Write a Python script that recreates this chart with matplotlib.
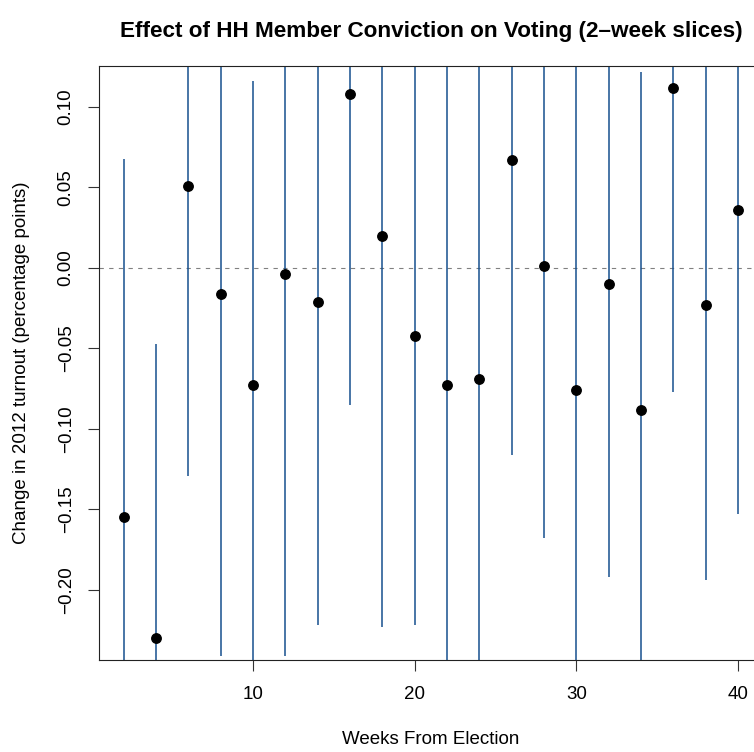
import matplotlib
matplotlib.use('Agg')
import matplotlib.pyplot as plt
from matplotlib.ticker import FixedLocator, FuncFormatter

plt.rcParams['font.family'] = ['Liberation Sans', 'DejaVu Sans']

# weeks before the election (2-week slices)
weeks = [2, 4, 6, 8, 10, 12, 14, 16, 18, 20, 22, 24, 26, 28, 30, 32, 34, 36, 38, 40]
# point estimates of the effect
estimate = [-0.155, -0.230, 0.051, -0.016, -0.073, -0.004, -0.021, 0.108, 0.020, -0.042,
            -0.073, -0.069, 0.067, 0.001, -0.076, -0.010, -0.088, 0.112, -0.023, 0.036]
# confidence interval bounds
ci_low = [-0.377, -0.413, -0.129, -0.241, -0.261, -0.241, -0.222, -0.085, -0.223, -0.222,
          -0.283, -0.274, -0.116, -0.168, -0.291, -0.192, -0.298, -0.077, -0.194, -0.153]
ci_high = [0.068, -0.047, 0.231, 0.209, 0.116, 0.234, 0.180, 0.301, 0.262, 0.137,
           0.137, 0.137, 0.250, 0.169, 0.139, 0.172, 0.122, 0.300, 0.148, 0.224]

x_ticks = [10, 20, 30, 40]
y_ticks = [-0.20, -0.15, -0.10, -0.05, 0.00, 0.05, 0.10]

fig = plt.figure(figsize=(7.54, 7.52), dpi=100)
# the plot region runs past the right edge of the picture, as in the original
ax = fig.add_axes([0.1313, 0.1223, 0.8802, 0.7903])

ax.vlines(weeks, ci_low, ci_high, color='#164f8e', linewidth=1.1, zorder=2)
ax.axhline(0, color='#808080', linewidth=0.8, linestyle=(0, (3.9, 4.8)), zorder=1)
ax.plot(weeks, estimate, 'o', color='black', markersize=6.8, zorder=3)

# R style limits: data range of the points plus 4% on each side
xpad = (max(weeks) - min(weeks)) * 0.04
ypad = (max(estimate) - min(estimate)) * 0.04
ax.set_xlim(min(weeks) - xpad, max(weeks) + xpad)
ax.set_ylim(min(estimate) - ypad, max(estimate) + ypad)

ax.xaxis.set_major_locator(FixedLocator(x_ticks))
ax.yaxis.set_major_locator(FixedLocator(y_ticks))
ax.yaxis.set_major_formatter(FuncFormatter(lambda v, p: f'{v:.2f}'.replace('-', '\u2212')))
ax.tick_params(axis='x', length=8, width=0.8, labelsize=13.5, pad=11, color='#333333')
ax.tick_params(axis='y', length=8, width=0.8, labelsize=13.5, pad=9.5, color='#333333')
for lab in ax.get_yticklabels():
    lab.set_rotation(90)
    lab.set_va('center')

for sp in ax.spines.values():
    sp.set_linewidth(0.8)
    sp.set_color('#222222')

ax.set_xlabel('Weeks From Election', fontsize=13.5, labelpad=20)
ax.set_ylabel('Change in 2012 turnout (percentage points)', fontsize=13.5, labelpad=20)
fig.text(0.5716, 0.958, 'Effect of HH Member Conviction on Voting (2\u2013week slices)',
         ha='center', va='center', fontsize=16.2, fontweight='bold')

fig.savefig('out.png', dpi=100)
